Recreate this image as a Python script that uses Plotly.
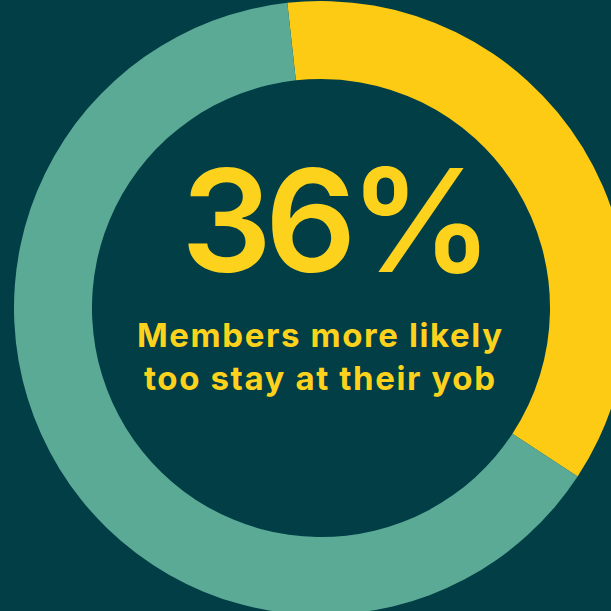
import plotly.graph_objects as go

# Share of members more likely to stay at their job
labels = ["More likely to stay", "Other"]
values = [36, 64]
colors = ["#FECB14", "#5BAA96"]

headline = "36%"
caption_lines = ["Members more likely", "too stay at their yob"]

BG = "#013E46"
TEXT = "#FCD21D"

# Figure slightly larger than the viewport so the ring runs off the right and bottom edges
W, H = 640, 620
cx, cy, R = 321, 308, 307

fig = go.Figure(
    go.Pie(
        labels=labels,
        values=values,
        hole=0.746,
        sort=False,
        direction="clockwise",
        rotation=-6.3,
        marker=dict(colors=colors, line=dict(width=0)),
        textinfo="none",
        hoverinfo="skip",
        showlegend=False,
        domain=dict(
            x=[(cx - R) / W, (cx + R) / W],
            y=[(H - (cy + R)) / H, (H - (cy - R)) / H],
        ),
    )
)


def tracked(text, spacing):
    return f'<span style="letter-spacing:{spacing}px">{text}</span>'


fig.add_annotation(
    text=tracked(headline, -7),
    x=333 / W, y=1 - 219 / H,
    xref="paper", yref="paper",
    xanchor="center", yanchor="middle",
    showarrow=False,
    font=dict(family="Inter", size=143, color=TEXT, weight=600),
)

for line, ypx in zip(caption_lines, [335, 378]):
    fig.add_annotation(
        text=tracked(line, 1.6),
        x=320 / W, y=1 - ypx / H,
        xref="paper", yref="paper",
        xanchor="center", yanchor="middle",
        showarrow=False,
        font=dict(family="Inter", size=33, color=TEXT, weight=700),
    )

fig.update_layout(
    width=W, height=H,
    margin=dict(l=0, r=0, t=0, b=0),
    paper_bgcolor=BG,
    plot_bgcolor=BG,
)

fig.write_html(
    "out.html",
    config={"displayModeBar": False},
    post_script="document.documentElement.style.overflow='hidden';document.body.style.overflow='hidden';document.body.style.background='" + BG + "';",
)
